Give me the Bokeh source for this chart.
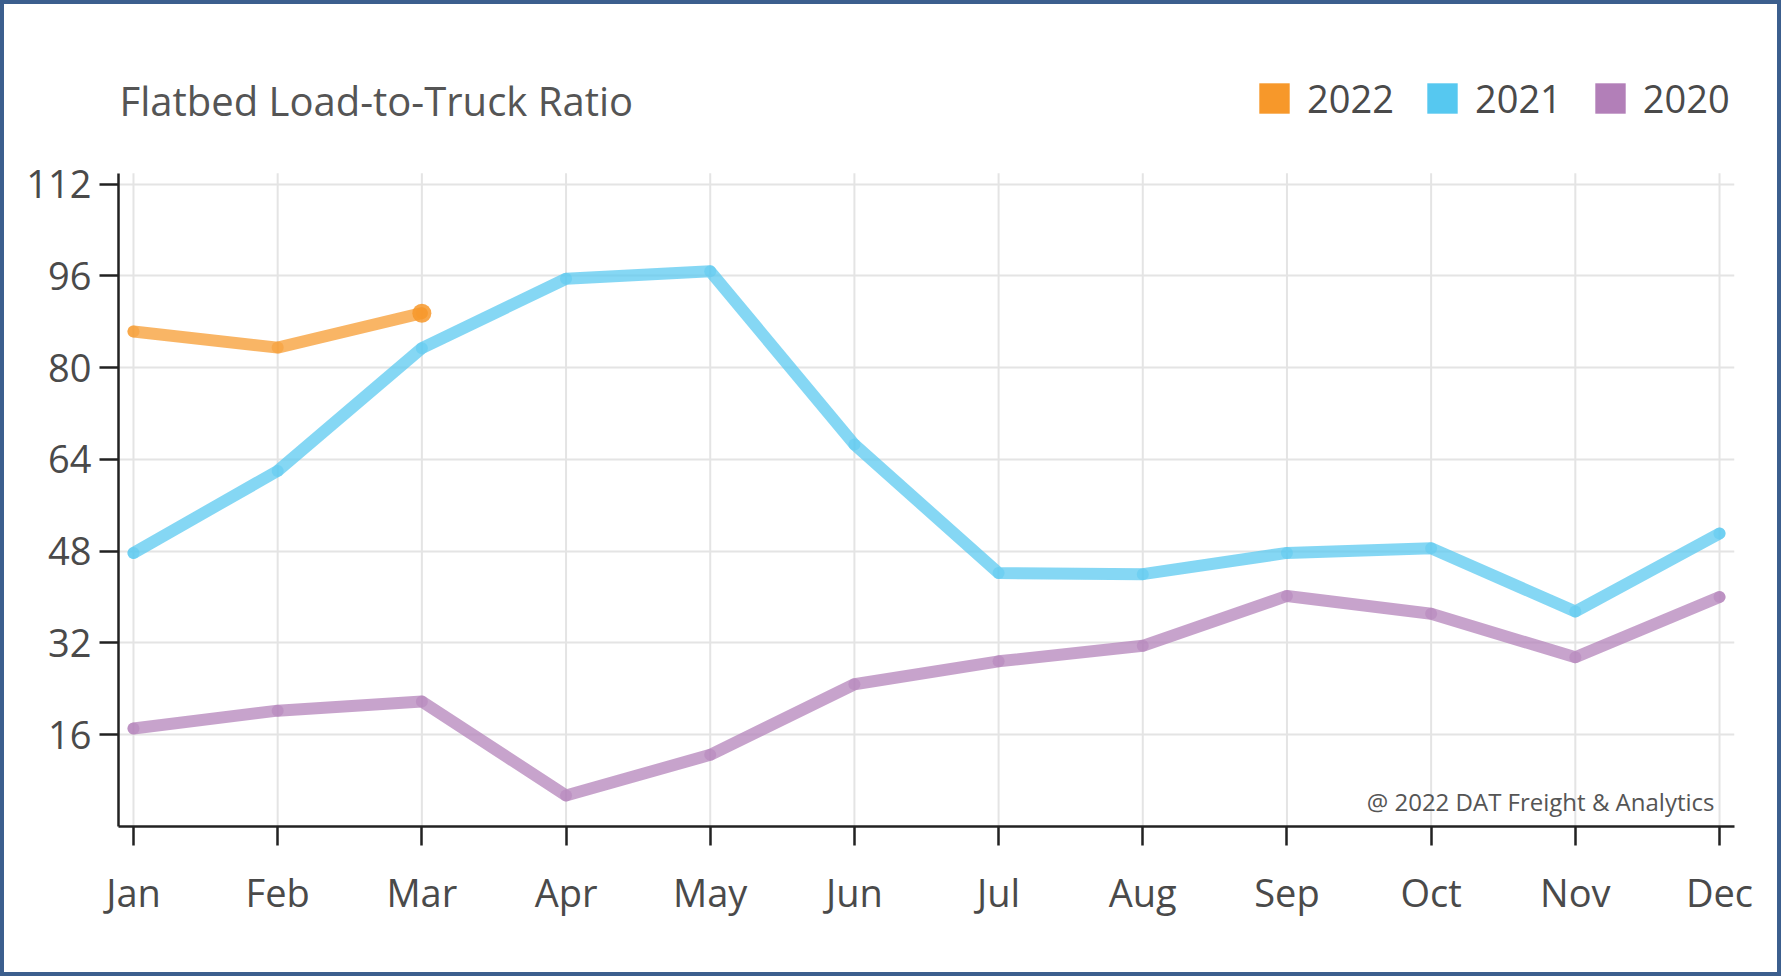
from bokeh.plotting import figure
from bokeh.models import FixedTicker, Legend, LegendItem, Label, Range1d
from bokeh.embed import file_html
from bokeh.resources import INLINE

months = ["Jan", "Feb", "Mar", "Apr", "May", "Jun", "Jul", "Aug", "Sep", "Oct", "Nov", "Dec"]
ratio_2022 = [86.3, 83.5, 89.5]
ratio_2021 = [47.7, 62.0, 83.4, 95.5, 96.8, 66.6, 44.2, 44.0, 47.7, 48.5, 37.5, 51.1]
ratio_2020 = [17.1, 20.2, 21.8, 5.4, 12.5, 24.8, 28.8, 31.5, 40.2, 37.1, 29.5, 40.0]
y_ticks = [16, 32, 48, 64, 80, 96, 112]
series_names = ["2022", "2021", "2020"]
series_colors = ["#F7982A", "#56C8F0", "#B27FB8"]
title_text = "Flatbed Load-to-Truck Ratio"
credit_text = "@ 2022 DAT Freight & Analytics"

FONT = "Open Sans"
Y_TOP = 113.9      # top of the plotted value area
Y_VIEW = 135.3     # extra headroom inside the frame for title + legend

p = figure(width=1781, height=976, output_backend="svg", toolbar_location=None,
           x_range=Range1d(-0.104, 11.104), y_range=Range1d(0, Y_VIEW),
           min_border_left=114, min_border_top=46, min_border_right=51, min_border_bottom=154)
p.styles = {"border": "4px solid #3C5F8E"}
p.outline_line_color = None
p.background_fill_color = "white"
p.border_fill_color = "white"

x_idx = list(range(len(months)))

# vertical grid lines limited to the value area
p.segment(x0=x_idx, y0=[0] * len(x_idx), x1=x_idx, y1=[Y_TOP] * len(x_idx),
          line_color="#E4E4E4", line_width=2, level="underlay")

data = {"2020": ratio_2020, "2021": ratio_2021, "2022": ratio_2022}
for name in ["2020", "2021", "2022"]:
    c = series_colors[series_names.index(name)]
    ys = data[name]
    xs = x_idx[:len(ys)]
    p.line(xs, ys, line_color=c, line_width=12, line_alpha=0.72, line_join="round", line_cap="round")
    p.scatter(xs, ys, size=12, fill_color=c, line_color=None, fill_alpha=0.45)

# end-point marker on the current year
p.scatter([x_idx[len(ratio_2022) - 1]], [ratio_2022[-1]], size=19, fill_color=series_colors[0],
          line_color=None, fill_alpha=0.85)

# square legend swatches (proxy renderers with no visible extent)
nan = float("nan")
items = []
for name, c in zip(series_names, series_colors):
    r = p.quad(left=[nan], right=[nan], top=[nan], bottom=[nan], fill_color=c, line_color=None)
    items.append(LegendItem(label=name, renderers=[r]))

legend = Legend(items=items, orientation="horizontal", location=(1137, 702),
                glyph_width=38, glyph_height=38, label_standoff=14, spacing=29,
                padding=0, margin=0, border_line_color=None, background_fill_alpha=0,
                label_text_font=FONT, label_text_font_size="38px", label_text_color="#4A4A4A")
p.add_layout(legend)

p.add_layout(Label(x=-0.097, y=126.5, text=title_text, text_font=FONT, text_font_size="40px",
                   text_color="#555555", text_align="left", text_baseline="middle"))
p.add_layout(Label(x=10.965, y=4.36, text=credit_text, text_font=FONT, text_font_size="24px",
                   text_color="#555555", text_align="right", text_baseline="middle"))

# axes
p.xaxis.ticker = FixedTicker(ticks=x_idx)
p.xaxis.major_label_overrides = {i: m for i, m in enumerate(months)}
p.yaxis.ticker = FixedTicker(ticks=y_ticks)
p.yaxis.bounds = (0, Y_TOP)
for ax in (p.xaxis, p.yaxis):
    ax.axis_line_color = "#222222"
    ax.axis_line_width = 2.5
    ax.major_tick_line_color = "#222222"
    ax.major_tick_line_width = 2.5
    ax.major_tick_out = 19
    ax.major_tick_in = 0
    ax.minor_tick_line_color = None
    ax.major_label_text_font = FONT
    ax.major_label_text_font_size = "38px"
    ax.major_label_text_color = "#4A4A4A"
p.xaxis.major_label_standoff = 20
p.yaxis.major_label_standoff = 8

p.xgrid.visible = False
p.ygrid.ticker = FixedTicker(ticks=y_ticks)
p.ygrid.grid_line_color = "#E4E4E4"
p.ygrid.grid_line_width = 2

open("out.html", "w").write(file_html(p, INLINE))
